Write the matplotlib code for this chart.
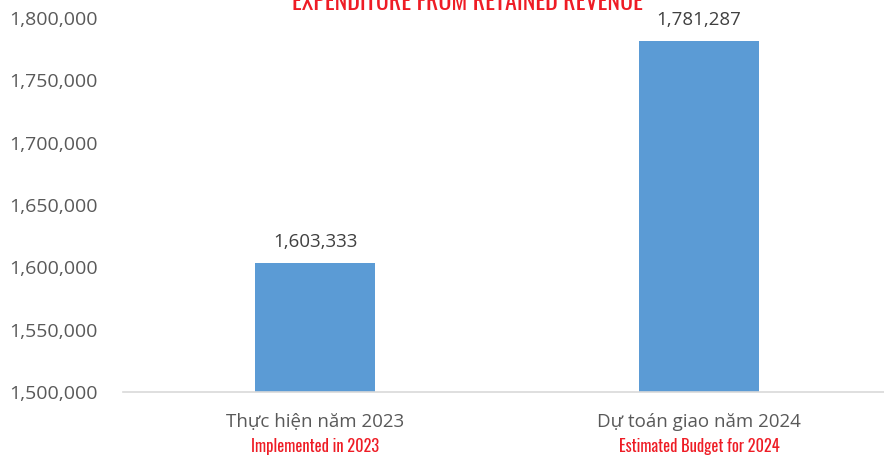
import matplotlib
matplotlib.use("Agg")
import matplotlib.pyplot as plt
from matplotlib.ticker import FuncFormatter
import matplotlib.transforms as mtransforms

categories = ["Thực hiện năm 2023", "Dự toán giao năm 2024"]
categories_en = ["Implemented in 2023", "Estimated Budget for 2024"]
values = [1603333, 1781287]
y_ticks = [1500000, 1550000, 1600000, 1650000, 1700000, 1750000, 1800000]
title = "EXPENDITURE FROM RETAINED REVENUE"

narrow = ["Oswald", "DejaVu Sans"]
plt.rcParams["font.family"] = ["Open Sans", "DejaVu Sans"]

fig = plt.figure(figsize=(8.84, 4.57), dpi=100)
ax = fig.add_axes([123 / 884, 65 / 457, 768 / 884, 374 / 457])

x = list(range(len(categories)))
ax.bar(x, values, width=0.315, color="#5B9BD5", zorder=2)

ax.set_xlim(-0.5, 1.5)
ax.set_ylim(1500000, 1800000)
ax.set_yticks(y_ticks)
ax.yaxis.set_major_formatter(FuncFormatter(lambda v, p: f"{v:,.0f}"))
ax.tick_params(axis="y", length=0, pad=18, labelsize=14, labelcolor="#595959")
ax.set_xticks([])

for s in ["top", "right", "left"]:
    ax.spines[s].set_visible(False)
ax.spines["bottom"].set_color("#D9D9D9")
ax.spines["bottom"].set_linewidth(1.2)

# value labels above the bars
for xi, v in zip(x, values):
    ax.annotate(f"{v:,}", (xi, v), xytext=(0, 9), textcoords="offset points",
                ha="center", va="bottom", fontsize=13.5, color="#404040")

# two-line category labels: Vietnamese + English in red
trans = mtransforms.blended_transform_factory(ax.transData, ax.transAxes)
for xi, vn, en in zip(x, categories, categories_en):
    ax.text(xi, -0.0936, vn, transform=trans, ha="center", va="baseline",
            fontsize=13.5, color="#595959")
    ax.text(xi, -0.160, en, transform=trans, ha="center", va="baseline",
            fontsize=11.8, color="#EE1C25", family=narrow, fontweight="bold")

# title sits partly above the top edge, as in the source image
fig.text(467 / 884, 1 - 10 / 457, title, ha="center", va="baseline",
         fontsize=17.3, color="#EE1C25", family=narrow, fontweight="bold")

fig.savefig("out.png", dpi=100)
